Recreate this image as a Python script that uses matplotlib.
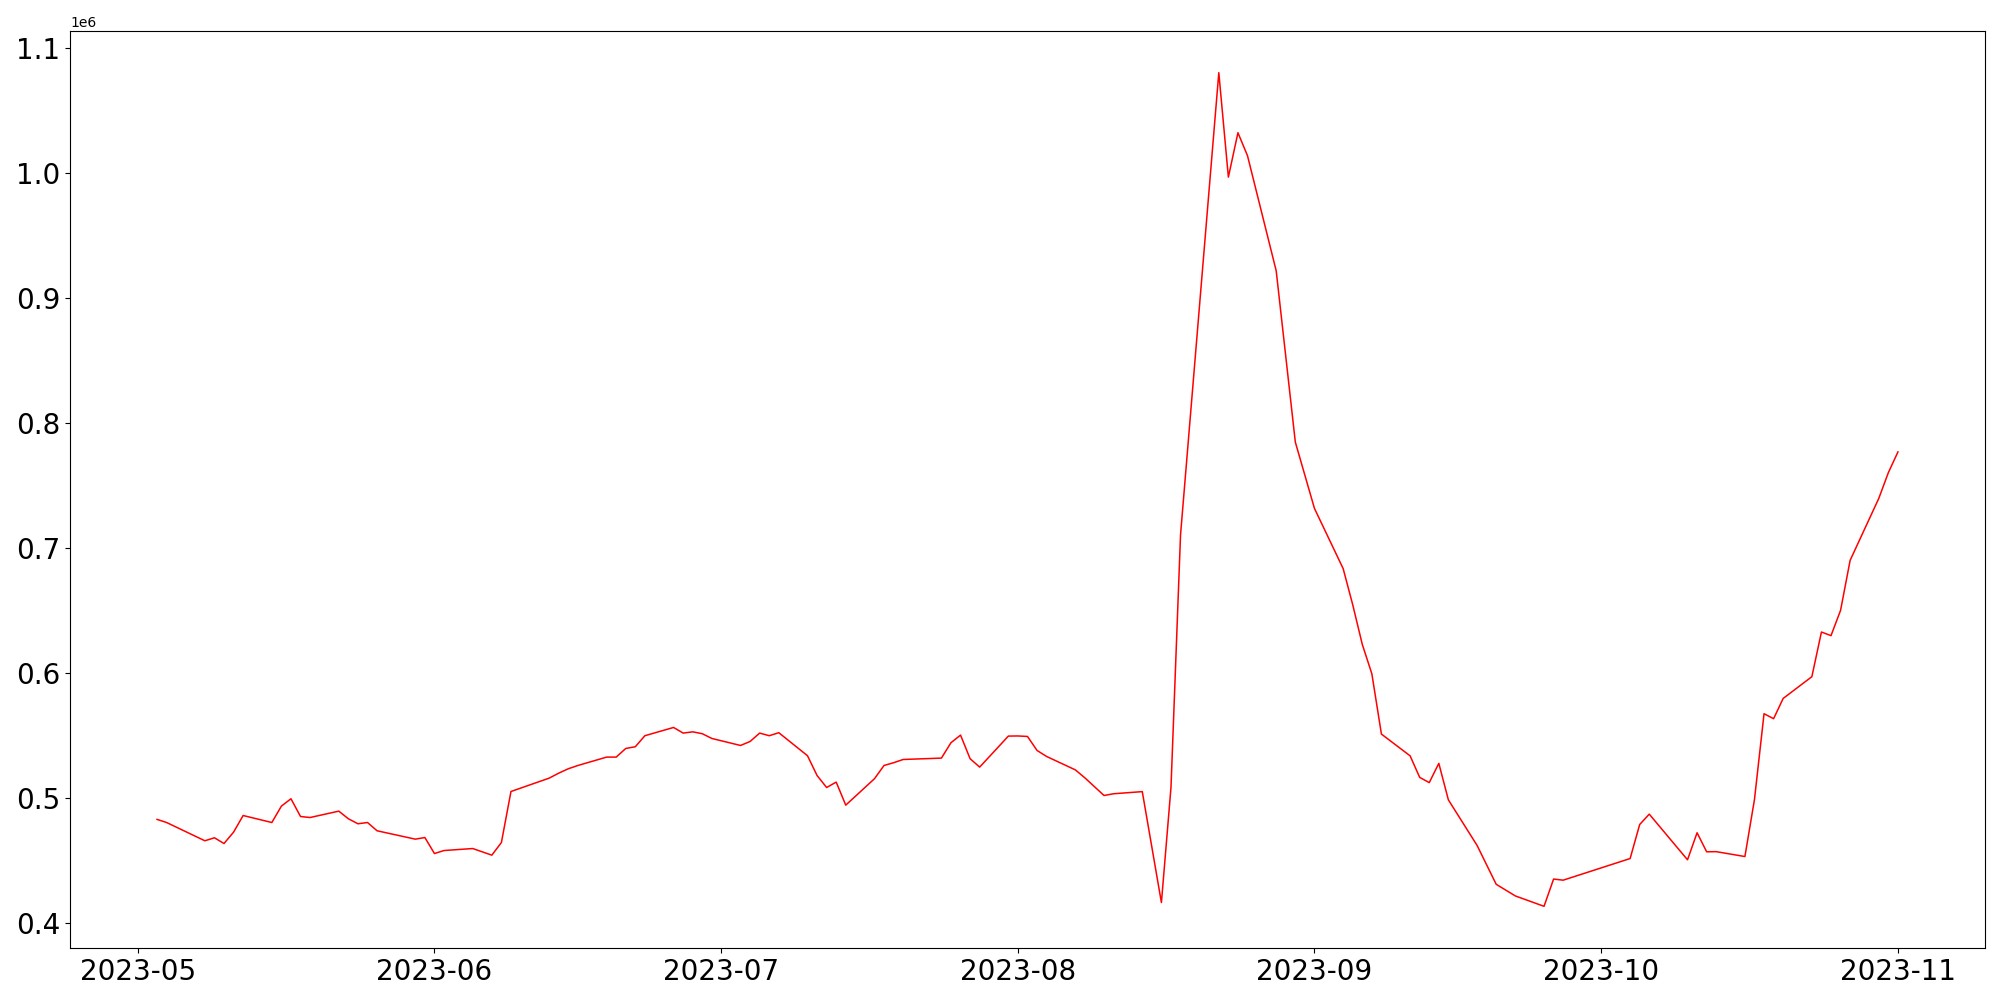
import matplotlib
matplotlib.use('Agg')
import matplotlib.pyplot as plt
import pandas as pd

# dates and values
dates = [
    '2023-05-03', '2023-05-04', '2023-05-08', '2023-05-09', '2023-05-10', '2023-05-11', '2023-05-12',
    '2023-05-15', '2023-05-16', '2023-05-17', '2023-05-18', '2023-05-19',
    '2023-05-22', '2023-05-23', '2023-05-24', '2023-05-25', '2023-05-26',
    '2023-05-30', '2023-05-31', '2023-06-01', '2023-06-02',
    '2023-06-05', '2023-06-07', '2023-06-08', '2023-06-09',
    '2023-06-13', '2023-06-14', '2023-06-15', '2023-06-16',
    '2023-06-19', '2023-06-20', '2023-06-21', '2023-06-22', '2023-06-23',
    '2023-06-26', '2023-06-27', '2023-06-28', '2023-06-29', '2023-06-30',
    '2023-07-03', '2023-07-04', '2023-07-05', '2023-07-06', '2023-07-07',
    '2023-07-10', '2023-07-11', '2023-07-12', '2023-07-13', '2023-07-14',
    '2023-07-17', '2023-07-18', '2023-07-19', '2023-07-20',
    '2023-07-24', '2023-07-25', '2023-07-26', '2023-07-27', '2023-07-28',
    '2023-07-31', '2023-08-01', '2023-08-02', '2023-08-03', '2023-08-04',
    '2023-08-07', '2023-08-08', '2023-08-10', '2023-08-11',
    '2023-08-14', '2023-08-16', '2023-08-17', '2023-08-18',
    '2023-08-22', '2023-08-23', '2023-08-24', '2023-08-25',
    '2023-08-28', '2023-08-30', '2023-09-01',
    '2023-09-04', '2023-09-05', '2023-09-06', '2023-09-07', '2023-09-08',
    '2023-09-11', '2023-09-12', '2023-09-13', '2023-09-14', '2023-09-15',
    '2023-09-18', '2023-09-20', '2023-09-22',
    '2023-09-25', '2023-09-26', '2023-09-27',
    '2023-10-04', '2023-10-05', '2023-10-06',
    '2023-10-10', '2023-10-11', '2023-10-12', '2023-10-13',
    '2023-10-16', '2023-10-17', '2023-10-18', '2023-10-19', '2023-10-20',
    '2023-10-23', '2023-10-24', '2023-10-25', '2023-10-26', '2023-10-27',
    '2023-10-30', '2023-10-31', '2023-11-01',
]

values = [
    483000, 480500, 465900, 468300, 463700, 472800, 486100,
    480500, 493600, 499500, 485300, 484500,
    489600, 483500, 479500, 480500, 473900,
    467200, 468500, 455700, 458100,
    459700, 454400, 464500, 505300,
    516000, 520000, 523500, 526100,
    532800, 532800, 539700, 541100, 549900,
    556500, 552000, 553000, 551500, 547700,
    542100, 545300, 552000, 549900, 552300,
    533900, 518100, 508500, 512800, 494400,
    515500, 526100, 528300, 530900,
    532000, 544300, 550400, 531500, 524800,
    549600, 549700, 549300, 538100, 533300,
    522600, 516200, 502100, 503500,
    505200, 416500, 508500, 710600,
    1080000, 996500, 1032000, 1013600,
    921600, 784600, 731600,
    683500, 654600, 622900, 599400, 551200,
    533800, 516600, 512400, 527800, 498600,
    462200, 431100, 421800,
    413500, 435300, 434400,
    451700, 478900, 487200,
    450700, 472300, 457100, 457200,
    453300, 498900, 567500, 563500, 579700,
    597100, 632800, 629900, 650100, 690100,
    739700, 760300, 776800,
]

df = pd.DataFrame({'date': pd.to_datetime(dates), 'value': values})

fig = plt.figure(figsize=(20, 10), dpi=100)
ax = fig.add_subplot(111)
ax.plot(df['date'], df['value'], color='red', linewidth=1.1)

plt.xticks(fontsize=20)
plt.yticks(fontsize=20)

fig.subplots_adjust(left=0.035, right=0.9925, bottom=0.052, top=0.969)
fig.savefig('out.png')
